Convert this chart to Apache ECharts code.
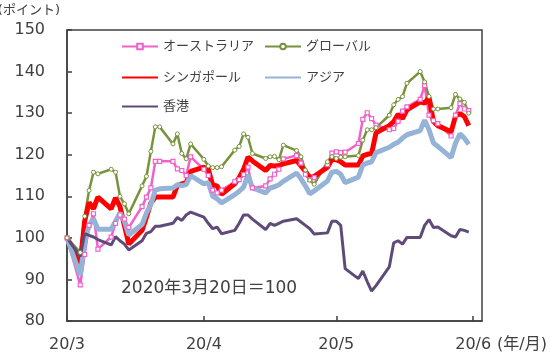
<!DOCTYPE html>
<html><head><meta charset="utf-8">
<script src="https://cdn.jsdelivr.net/npm/echarts@6/dist/echarts.min.js"></script>
<style>html,body{margin:0;padding:0;background:#fff;}#c{width:550px;height:357px;}</style>
</head><body><div id="c"></div>
<script>
const dates = ['3/20','3/23','3/24','3/25','3/26','3/27','3/30','3/31',
'4/1','4/2','4/3','4/6','4/7','4/8','4/9','4/10','4/13','4/14','4/15','4/16','4/17','4/20','4/21','4/22','4/23','4/24','4/27','4/28','4/29','4/30',
'5/1','5/4','5/5','5/6','5/7','5/8','5/11','5/12','5/13','5/14','5/15','5/18','5/19','5/20','5/21','5/22','5/25','5/26','5/27','5/28','5/29',
'6/1','6/2','6/3','6/4','6/5','6/8','6/9','6/10','6/11','6/12','6/15','6/16','6/17','6/18','6/19'];

const australia = [100,88.7,96,103,105.8,97.3,100.2,103.5,
105.5,104.5,102.5,107.5,109.8,112,118.4,118.4,118.4,116.6,116.2,115,119.5,116.5,115,111.5,110.8,111.5,113.5,114,115.2,117,
112,112.5,114.2,115.3,116.5,119,119.8,118,115.3,114,114.5,117.6,120.4,120.7,120.5,120.6,122.7,128.5,130.1,128.7,127.1,
126,126.3,128,130.5,131.5,133.3,136.6,129.5,128.2,127.5,124.5,129.5,132.3,131,130.6];

const globalIdx = [100,96.5,105.2,111.4,115.8,115.4,116.5,115.8,
110,108.2,105.8,112.5,114.8,120.8,126.7,126.7,122.6,125,120.3,119,122.6,118.9,117.3,116.9,116.9,117.1,121.1,122,125,124.2,
120.3,119.1,119.5,119.6,118.8,122.3,121,119.5,116.3,113.9,112.9,118.3,119.5,119.1,119.4,119.5,119.8,123.5,126,126,126.5,
129.5,132,133.3,134,137.2,140,137.5,134,131,131,131.3,134.5,133.4,132.6,130];

const singapore = [100,93.8,104,108.5,107,109.8,107,109.6,
107.5,103,98.5,101.8,105,108.4,109.8,109.8,109.8,112.6,113,113.3,116,117,116.5,112.7,112.5,110.5,113,114.5,116.5,119.4,
118.5,116.2,117.4,117.3,117.4,117.8,118.6,117.3,116,114.5,114.8,117,118.9,118.8,118.3,117.5,117.5,119.7,120.1,120.3,125.3,
127,128,129.7,128.7,130.8,132.7,132.4,133.8,128,127,125.5,129.3,129.9,129.2,127];

const asia = [100,91,99,103,104.6,102.1,102.1,104,
106,104,100.7,103.2,106,108,111.5,111.8,112,112.8,112.6,112.8,115,113,113.3,110,109.4,108.4,110.4,111.2,112.2,115.2,
112,110.8,112,112.3,112.8,113.6,115.6,114.2,112.5,110.6,111.3,113.7,115.8,116,115.3,113.3,114.6,117.5,118,118.3,120.5,
121.8,122.5,123,124,124.8,125.8,128.3,126,122.8,122,119.3,122.8,125,124,122.5];

const hongkong = [100,95.5,101,100.6,100.2,99.6,98.3,100.3,
99.3,98.5,97.1,99.3,101.1,101.5,102.8,102.8,103.5,104.9,104.2,105.5,106.2,105,103.5,102.2,102.6,101,101.8,103.5,105.5,105.5,
104.5,102,103.5,103,103.5,104,104.6,103.8,103,102.2,100.9,101.2,104,104,103,92.6,90.2,92,89.5,87.2,88.5,
93,98.8,99.3,98.5,100.1,100.1,103,104.4,102.5,102.6,100.5,100.2,102,101.8,101.4];

const tickDates = ['3/20','4/20','5/20','6/20'];
const tickLabels = ['20/3','20/4','20/5','20/6'];
const yTicks = [80,90,100,110,120,130,140,150];

function dayOffset(md){
  const p = md.split('/').map(Number);
  return (Date.UTC(2020,p[0]-1,p[1]) - Date.UTC(2020,2,20)) / 86400000;
}
const tickDays = tickDates.map(dayOffset);
const pairs = arr => arr.map((v,i)=>[dayOffset(dates[i]), v]);

const FONT = "'DejaVu Sans','Noto Sans CJK JP',sans-serif";
const TXT = '#404040';
const C = {aus:'#F062C8', glb:'#77933C', sgp:'#FF0000', asia:'#95B3D7', hk:'#5F4B7A'};

const chart = echarts.init(document.getElementById('c'), null, {renderer:'canvas'});

function lg(name, left, top, extra){
  return Object.assign({
    left:left, top:top, padding:0, orient:'horizontal',
    itemWidth:36, itemHeight:7, itemGap:5,
    textStyle:{fontSize:13, color:TXT, fontFamily:FONT},
    data:[name], selectedMode:false
  }, extra||{});
}

chart.setOption({
  animation:false,
  textStyle:{fontFamily:FONT},
  grid:{left:67, right:68, top:30, bottom:36, show:true, borderColor:TXT, borderWidth:1.5},
  legend:[
    lg('オーストラリア',121,40),
    lg('シンガポール',121,71,{data:[{name:'シンガポール', itemStyle:{opacity:0}}]}),
    lg('香港',121,100,{data:[{name:'香港', itemStyle:{opacity:0}}]}),
    lg('グローバル',264,40),
    lg('アジア',264,71,{data:[{name:'アジア', itemStyle:{opacity:0}}]})
  ],
  xAxis:{
    type:'value', min:0, max:94,
    axisLine:{show:true, lineStyle:{color:TXT, width:1.5}},
    splitLine:{show:false},
    axisTick:{show:true, inside:true, length:5, customValues:tickDays, lineStyle:{color:TXT, width:1.5}},
    axisLabel:{customValues:tickDays, formatter:v=>tickLabels[tickDays.indexOf(v)] || '',
      fontSize:16, color:TXT, margin:16, fontFamily:FONT}
  },
  yAxis:{
    type:'value', min:yTicks[0], max:yTicks[yTicks.length-1], interval:10,
    axisLine:{show:true, lineStyle:{color:TXT, width:1.5}},
    splitLine:{show:false},
    axisTick:{show:true, inside:true, length:5, lineStyle:{color:TXT, width:1.5}},
    axisLabel:{fontSize:16, color:TXT, margin:22, fontFamily:FONT}
  },
  graphic:[
    {type:'text', right:490, top:4, style:{text:'(ポイント)', font:'13px '+FONT, fill:TXT}},
    {type:'text', left:121, top:280, style:{text:'2020年3月20日＝100', font:'17px '+FONT, fill:TXT}},
    {type:'text', left:497, top:337, style:{text:'(年/月)', font:'16px '+FONT, fill:TXT}}
  ],
  series:[
    {name:'オーストラリア', type:'line', data:pairs(australia), symbol:'rect', symbolSize:4,
     lineStyle:{color:C.aus, width:2.5}, itemStyle:{color:'#fff', borderColor:C.aus, borderWidth:1.2}},
    {name:'グローバル', type:'line', data:pairs(globalIdx), symbol:'circle', symbolSize:4,
     lineStyle:{color:C.glb, width:2.5}, itemStyle:{color:'#fff', borderColor:C.glb, borderWidth:1}},
    {name:'シンガポール', type:'line', data:pairs(singapore), symbol:'none',
     lineStyle:{color:C.sgp, width:5}, itemStyle:{color:C.sgp}},
    {name:'アジア', type:'line', data:pairs(asia), symbol:'none',
     lineStyle:{color:C.asia, width:5}, itemStyle:{color:C.asia}},
    {name:'香港', type:'line', data:pairs(hongkong), symbol:'none',
     lineStyle:{color:C.hk, width:3}, itemStyle:{color:C.hk}}
  ]
});
</script></body></html>
